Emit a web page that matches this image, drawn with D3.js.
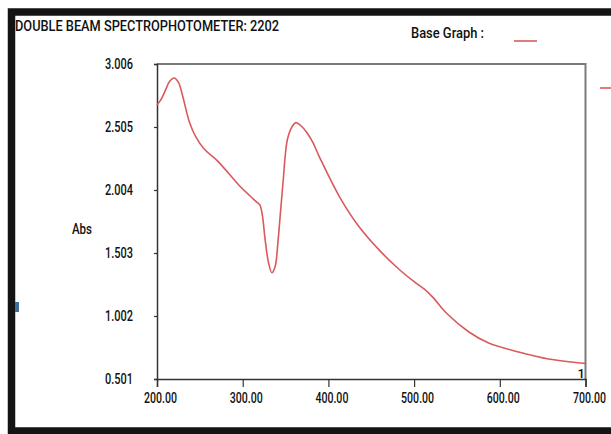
<!DOCTYPE html>
<html>
<head>
<meta charset="utf-8">
<script src="https://cdn.jsdelivr.net/npm/d3@7"></script>
<style>
    body { margin: 0; background: #fff; }
    svg text { font-family: Roboto, "Liberation Sans", sans-serif; font-weight: 500; fill: #111; }
</style>
</head>
<body>
<div id="chart"></div>
<script>

// wavelength (nm) and absorbance
const wavelengths = [200, 205, 210, 215, 220, 225, 230, 238, 245, 255, 270, 296, 308, 316, 320, 323, 326, 330, 334, 338, 341, 344, 347, 352, 357, 362, 368, 375, 382, 390, 413, 436, 463, 483, 500, 512, 522, 537, 564, 587, 622, 657, 695, 700];
const absorbance = [2.680, 2.727, 2.800, 2.870, 2.895, 2.860, 2.750, 2.540, 2.430, 2.330, 2.240, 2.040, 1.960, 1.910, 1.885, 1.800, 1.620, 1.430, 1.346, 1.400, 1.580, 1.820, 2.060, 2.400, 2.500, 2.540, 2.515, 2.460, 2.380, 2.260, 1.950, 1.710, 1.500, 1.370, 1.275, 1.215, 1.150, 1.030, 0.875, 0.787, 0.716, 0.660, 0.628, 0.625];
const xTicks = [200, 300, 400, 500, 600, 700];
const yTicks = [0.501, 1.002, 1.503, 2.004, 2.505, 3.006];

const width = 611,
    height = 434,
    margin = {top: 64, right: 25, bottom: 55, left: 157},

    x = d3.scaleLinear().
        domain([200, 700]).
        range([margin.left, width - margin.right - 0.5]),

    y = d3.scaleLinear().
        domain([0.501, 3.006]).
        range([height - margin.bottom, margin.top]),

    svg = d3.select("#chart").append("svg").
        attr("width", width).
        attr("height", height);

// outer black frame (right side runs off the picture)
svg.append("rect").
    attr("x", 11.5).
    attr("y", 12).
    attr("width", 640).
    attr("height", 419).
    attr("fill", "none").
    attr("stroke", "#141414").
    attr("stroke-width", 7.5);

svg.append("rect").
    attr("x", 15).
    attr("y", 302).
    attr("width", 4).
    attr("height", 10).
    attr("fill", "#3f6e9e");

svg.append("text").
    attr("x", 15).
    attr("y", 31).
    attr("font-size", 15).
    attr("textLength", 264).
    attr("lengthAdjust", "spacingAndGlyphs").
    text("DOUBLE BEAM SPECTROPHOTOMETER: 2202");

svg.append("text").
    attr("x", 411).
    attr("y", 38).
    attr("font-size", 15).
    attr("textLength", 73).
    attr("lengthAdjust", "spacingAndGlyphs").
    text("Base Graph :");

svg.append("line").
    attr("x1", 514).
    attr("x2", 537).
    attr("y1", 41).
    attr("y2", 41).
    attr("stroke", "#e07c7c").
    attr("stroke-width", 2);

svg.append("line").
    attr("x1", 600).
    attr("x2", 611).
    attr("y1", 88).
    attr("y2", 88).
    attr("stroke", "#e07c7c").
    attr("stroke-width", 2);

// plot box: top and right edges in grey
svg.append("path").
    attr("d", `M${x(200)},${y(3.006)}H${x(700)}V${y(0.501)}`).
    attr("fill", "none").
    attr("stroke", "#7a7a7a").
    attr("stroke-width", 2);

const xAxis = svg.append("g").
    attr("transform", `translate(0,${y(0.501)})`).
    call(d3.axisBottom(x).
        tickValues(xTicks).
        tickSize(8).
        tickFormat(d3.format(".2f")));

const yAxis = svg.append("g").
    attr("transform", `translate(${x(200)},0)`).
    call(d3.axisLeft(y).
        tickValues(yTicks).
        tickSize(3).
        tickPadding(21).
        tickFormat(d3.format(".3f")));

[xAxis, yAxis].forEach((g) => {

    g.select(".domain").
        attr("stroke", "#333").
        attr("stroke-width", 1.5);
    g.selectAll(".tick line").
        attr("stroke", "#333").
        attr("stroke-width", 1.2);
    g.selectAll(".tick text").
        attr("font-family", "Roboto, sans-serif").
        attr("font-weight", 500).
        attr("font-size", 15).
        attr("fill", "#111").
        attr("lengthAdjust", "spacingAndGlyphs");

});

xAxis.selectAll(".tick text").
    attr("dx", 3).
    attr("dy", "0.85em").
    attr("textLength", 33);

// last label pinned to its right edge so it stays inside the picture
xAxis.selectAll(".tick text").
    filter((d) => d === 700).
    attr("text-anchor", "end").
    attr("dx", 20);

yAxis.selectAll(".tick text").
    attr("textLength", 28);

svg.append("text").
    attr("x", 72).
    attr("y", 234).
    attr("font-size", 15).
    attr("textLength", 20).
    attr("lengthAdjust", "spacingAndGlyphs").
    text("Abs");

svg.append("text").
    attr("x", 585).
    attr("y", 378).
    attr("text-anchor", "end").
    attr("font-size", 13).
    text("1");

const line = d3.line().
    x((d, i) => x(wavelengths[i])).
    y((d) => y(d)).
    curve(d3.curveCatmullRom.alpha(0.5));

svg.append("path").
    datum(absorbance).
    attr("d", line).
    attr("fill", "none").
    attr("stroke", "#d9595c").
    attr("stroke-width", 1.6);

</script>
</body>
</html>
